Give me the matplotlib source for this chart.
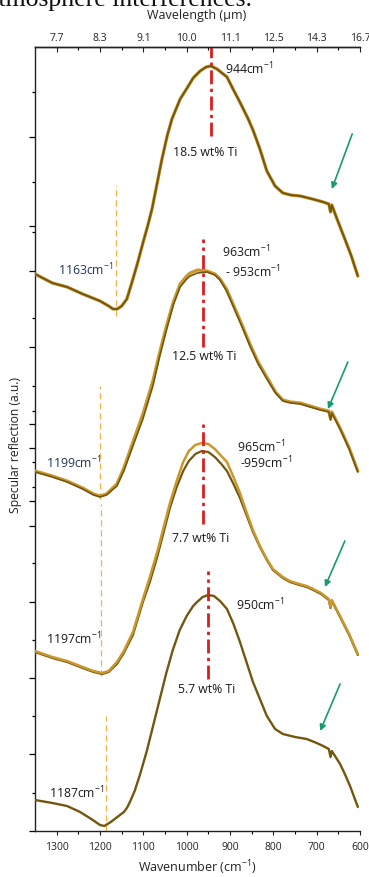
import matplotlib
matplotlib.use('Agg')
import matplotlib.pyplot as plt

plt.rcParams['font.family'] = ['Open Sans', 'DejaVu Sans']
plt.rcParams['mathtext.default'] = 'regular'

# ---------------- data ----------------
# Spectrum 1 : 18.5 wt% Ti
wn1 = [1350, 1310, 1276, 1240, 1200, 1180, 1170, 1160, 1150, 1138, 1124, 1112, 1101, 1090,
       1080, 1068, 1057, 1045, 1034, 1015, 999, 985, 969, 955, 944, 930, 907, 893, 875, 858,
       847, 831, 815, 796, 778, 760, 738, 710, 685, 672, 668, 665, 653, 635, 620, 605]
y1 = [5.57, 5.48, 5.44, 5.37, 5.30, 5.25, 5.22, 5.22, 5.25, 5.32, 5.52, 5.70, 5.88, 6.05,
      6.22, 6.48, 6.72, 6.95, 7.12, 7.32, 7.43, 7.53, 7.60, 7.64, 7.65, 7.62, 7.54, 7.42,
      7.27, 7.12, 7.01, 6.82, 6.60, 6.45, 6.38, 6.36, 6.35, 6.32, 6.29, 6.27, 6.19, 6.26,
      6.12, 5.92, 5.75, 5.55]

# Spectrum 2 : 12.5 wt% Ti (two measurements)
wn2 = [1350, 1310, 1276, 1240, 1215, 1200, 1185, 1161, 1145, 1124, 1101, 1078, 1062, 1046,
       1030, 1015, 1000, 992, 975, 953, 935, 923, 908, 893, 875, 854, 835, 815, 795, 778,
       760, 738, 715, 692, 672, 668, 665, 646, 625, 605]
y2_dark = [3.59, 3.54, 3.49, 3.42, 3.36, 3.34, 3.36, 3.45, 3.60, 3.85, 4.12, 4.45, 4.75, 5.02,
           5.27, 5.44, 5.52, 5.55, 5.58, 5.59, 5.56, 5.51, 5.40, 5.25, 5.07, 4.85, 4.67, 4.52,
           4.38, 4.30, 4.28, 4.27, 4.24, 4.21, 4.19, 4.11, 4.18, 4.02, 3.82, 3.59]
y2_gold = [3.60, 3.55, 3.50, 3.43, 3.37, 3.35, 3.37, 3.47, 3.63, 3.89, 4.17, 4.50, 4.79, 5.06,
           5.30, 5.47, 5.55, 5.58, 5.61, 5.60, 5.57, 5.52, 5.42, 5.27, 5.09, 4.87, 4.69, 4.54,
           4.39, 4.31, 4.29, 4.28, 4.25, 4.22, 4.20, 4.12, 4.19, 4.03, 3.83, 3.60]

# Spectrum 3 : 7.7 wt% Ti (two measurements)
wn3 = [1350, 1310, 1276, 1240, 1215, 1195, 1180, 1161, 1145, 1124, 1101, 1085, 1068, 1053,
       1038, 1023, 1008, 995, 980, 965, 950, 935, 920, 907, 892, 877, 862, 847, 831, 815,
       801, 778, 762, 740, 723, 708, 690, 672, 668, 665, 646, 625, 605]
y3_gold = [1.80, 1.74, 1.70, 1.64, 1.60, 1.58, 1.60, 1.69, 1.80, 1.99, 2.32, 2.54, 2.79, 3.04,
           3.29, 3.50, 3.69, 3.80, 3.86, 3.88, 3.87, 3.82, 3.75, 3.69, 3.54, 3.38, 3.19, 3.01,
           2.85, 2.72, 2.62, 2.54, 2.50, 2.47, 2.45, 2.42, 2.38, 2.32, 2.24, 2.31, 2.15, 1.97, 1.77]
y3_dark = [1.79, 1.73, 1.69, 1.63, 1.59, 1.57, 1.59, 1.67, 1.78, 1.96, 2.29, 2.49, 2.74, 2.99,
           3.24, 3.44, 3.60, 3.70, 3.77, 3.80, 3.79, 3.74, 3.67, 3.60, 3.47, 3.33, 3.16, 2.99,
           2.84, 2.71, 2.61, 2.53, 2.49, 2.46, 2.44, 2.41, 2.37, 2.31, 2.23, 2.30, 2.14, 1.96, 1.76]

# Spectrum 4 : 5.7 wt% Ti
wn4 = [1350, 1310, 1276, 1246, 1220, 1200, 1190, 1175, 1160, 1145, 1138, 1131, 1120, 1108,
       1092, 1077, 1062, 1047, 1032, 1016, 1000, 985, 976, 963, 950, 937, 923, 907, 892, 877,
       862, 847, 831, 815, 796, 778, 750, 723, 700, 685, 672, 668, 665, 646, 635, 623, 605]
y4 = [0.31, 0.28, 0.25, 0.19, 0.12, 0.06, 0.05, 0.09, 0.14, 0.19, 0.23, 0.29, 0.40, 0.56,
      0.80, 1.06, 1.32, 1.58, 1.81, 2.01, 2.15, 2.25, 2.29, 2.34, 2.36, 2.35, 2.30, 2.22,
      2.07, 1.89, 1.69, 1.49, 1.32, 1.15, 1.02, 0.97, 0.94, 0.92, 0.88, 0.85, 0.82, 0.74,
      0.80, 0.67, 0.57, 0.45, 0.24]

# minimum markers (orange dashed): wavenumber, y from, y to
min_wn = [1163, 1199, 1197, 1187]
min_y0 = [5.15, 3.32, 1.55, 0.00]
min_y1 = [6.46, 4.45, 3.27, 1.15]

# maximum markers (red dash-dot)
max_wn = [944, 962, 962, 950]
max_y0 = [6.95, 4.84, 3.07, 1.52]
max_y1 = [7.84, 5.92, 4.07, 2.60]

# text annotations: (text, wn, y, ha, color)
peak_labels = [
    ('944cm$^{-1}$', 912, 7.63, 'left', '#1a1a1a'),
    ('18.5 wt% Ti', 958, 6.80, 'center', '#1a1a1a'),
    ('1163cm$^{-1}$', 1297, 5.62, 'left', '#1f3558'),
    ('963cm$^{-1}$', 918, 5.80, 'left', '#1a1a1a'),
    ('- 953cm$^{-1}$', 912, 5.60, 'left', '#1a1a1a'),
    ('12.5 wt% Ti', 960, 4.75, 'center', '#1a1a1a'),
    ('1199cm$^{-1}$', 1324, 3.69, 'left', '#1f3558'),
    ('965cm$^{-1}$', 885, 3.85, 'left', '#1a1a1a'),
    ('-959cm$^{-1}$', 878, 3.69, 'left', '#1a1a1a'),
    ('7.7 wt% Ti', 967, 2.94, 'center', '#1a1a1a'),
    ('950cm$^{-1}$', 887, 2.27, 'left', '#1a1a1a'),
    ('1197cm$^{-1}$', 1324, 1.93, 'left', '#1a1a1a'),
    ('5.7 wt% Ti', 953, 1.42, 'center', '#1a1a1a'),
    ('1187cm$^{-1}$', 1317, 0.39, 'left', '#1a1a1a'),
]

# green arrows (tail wn, tail y, head wn, head y)
arrow_tail_wn = [618, 628, 635, 646]
arrow_tail_y = [6.97, 4.69, 2.90, 1.47]
arrow_head_wn = [665, 674, 681, 692]
arrow_head_y = [6.42, 4.22, 2.44, 1.00]

xticks = [1300, 1200, 1100, 1000, 900, 800, 700, 600]
xminor = [1250, 1150, 1050, 950, 850, 750, 650]
wl_labels = ['7.7', '8.3', '9.1', '10.0', '11.1', '12.5', '14.3', '16.7']
ymajor = [0, 0.77, 1.53, 2.29, 3.05, 3.30, 3.83, 4.07, 4.84, 5.60, 6.05, 6.94]
yminor = [0.38, 1.15, 1.91, 2.68, 3.44, 3.69, 4.20, 4.45, 5.13, 5.99, 6.49, 7.39]

# ---------------- drawing ----------------
DARK = '#735711'
GOLD = '#c9982c'

fig = plt.figure(figsize=(3.69, 8.78), dpi=100)
ax = fig.add_axes([35 / 369, 46 / 878, 325 / 369, 784 / 878])

kw = dict(solid_joinstyle='round', solid_capstyle='round')
ax.plot(wn1, y1, color=GOLD, lw=2.4, zorder=3, **kw)
ax.plot(wn1, y1, color=DARK, lw=1.4, zorder=4, **kw)
ax.plot(wn2, y2_gold, color=GOLD, lw=2.3, zorder=3, **kw)
ax.plot(wn2, y2_dark, color=DARK, lw=1.2, zorder=4, **kw)
ax.plot(wn3, y3_dark, color=DARK, lw=1.6, zorder=3, **kw)
ax.plot(wn3, y3_gold, color=GOLD, lw=1.8, zorder=4, **kw)
ax.plot(wn4, y4, color=DARK, lw=1.7, zorder=4, **kw)

for w, a, b in zip(min_wn, min_y0, min_y1):
    ax.plot([w, w], [a, b], color='#f2b447', lw=0.9, ls=(0, (5, 3)), zorder=2)
for w, a, b in zip(max_wn, max_y0, max_y1):
    ax.plot([w, w], [a, b], color='#d81e1e', lw=2.0, ls=(0, (5, 1.6, 1.2, 1.6)), zorder=5)

for t, w, yv, ha, c in peak_labels:
    ax.text(w, yv, t, ha=ha, va='center', fontsize=8.8, color=c, zorder=6)

for tw, ty, hw, hy in zip(arrow_tail_wn, arrow_tail_y, arrow_head_wn, arrow_head_y):
    ax.annotate('', xy=(hw, hy), xytext=(tw, ty),
                arrowprops=dict(arrowstyle='-|>', color='#189b6e', lw=1.2,
                                mutation_scale=9, shrinkA=0, shrinkB=0), zorder=6)

ax.set_xlim(1350, 600)
ax.set_ylim(0, 7.84)
ax.set_xticks(xticks)
ax.set_xticks(xminor, minor=True)
ax.set_yticks(ymajor)
ax.set_yticks(yminor, minor=True)
ax.yaxis.set_major_formatter(plt.NullFormatter())
ax.tick_params(axis='x', which='major', direction='out', length=3, width=0.8,
               labelsize=7.5, pad=4, colors='#222222')
ax.tick_params(axis='x', which='minor', direction='out', length=2, width=0.8)
ax.tick_params(axis='y', which='major', direction='out', length=4, width=0.9)
ax.tick_params(axis='y', which='minor', direction='out', length=2.5, width=0.9)
ax.spines['right'].set_visible(False)
for s in ['left', 'bottom', 'top']:
    ax.spines[s].set_linewidth(1.0)
    ax.spines[s].set_color('#222222')

ax2 = ax.twiny()
ax2.set_xlim(ax.get_xlim())
ax2.set_xticks(xticks)
ax2.set_xticklabels(wl_labels)
ax2.set_xticks(xminor, minor=True)
ax2.tick_params(axis='x', which='major', direction='in', length=3.5, width=0.8,
                labelsize=7.5, pad=3, colors='#222222')
ax2.tick_params(axis='x', which='minor', direction='in', length=2, width=0.8)
for s in ['left', 'right', 'bottom']:
    ax2.spines[s].set_visible(False)
ax2.spines['top'].set_linewidth(1.0)
ax2.spines['top'].set_color('#222222')

fig.text(197 / 369, 1 - 15 / 878, 'Wavelength (\u00b5m)', ha='center', va='center',
         fontsize=9, color='#222222')
fig.text(197 / 369, 10 / 878, 'Wavenumber (cm$^{-1}$)', ha='center', va='center',
         fontsize=9, color='#222222')
fig.text(16 / 369, 1 - 445 / 878, 'Specular reflection (a.u.)', ha='center', va='center',
         rotation=90, fontsize=8.7, color='#222222')
fig.text(252 / 369, 1 - 6 / 878, 'atmosphere interferences.', ha='right', va='baseline',
         fontsize=18.5, family='Liberation Serif', color='#111111')

fig.savefig('out.png', dpi=100)
